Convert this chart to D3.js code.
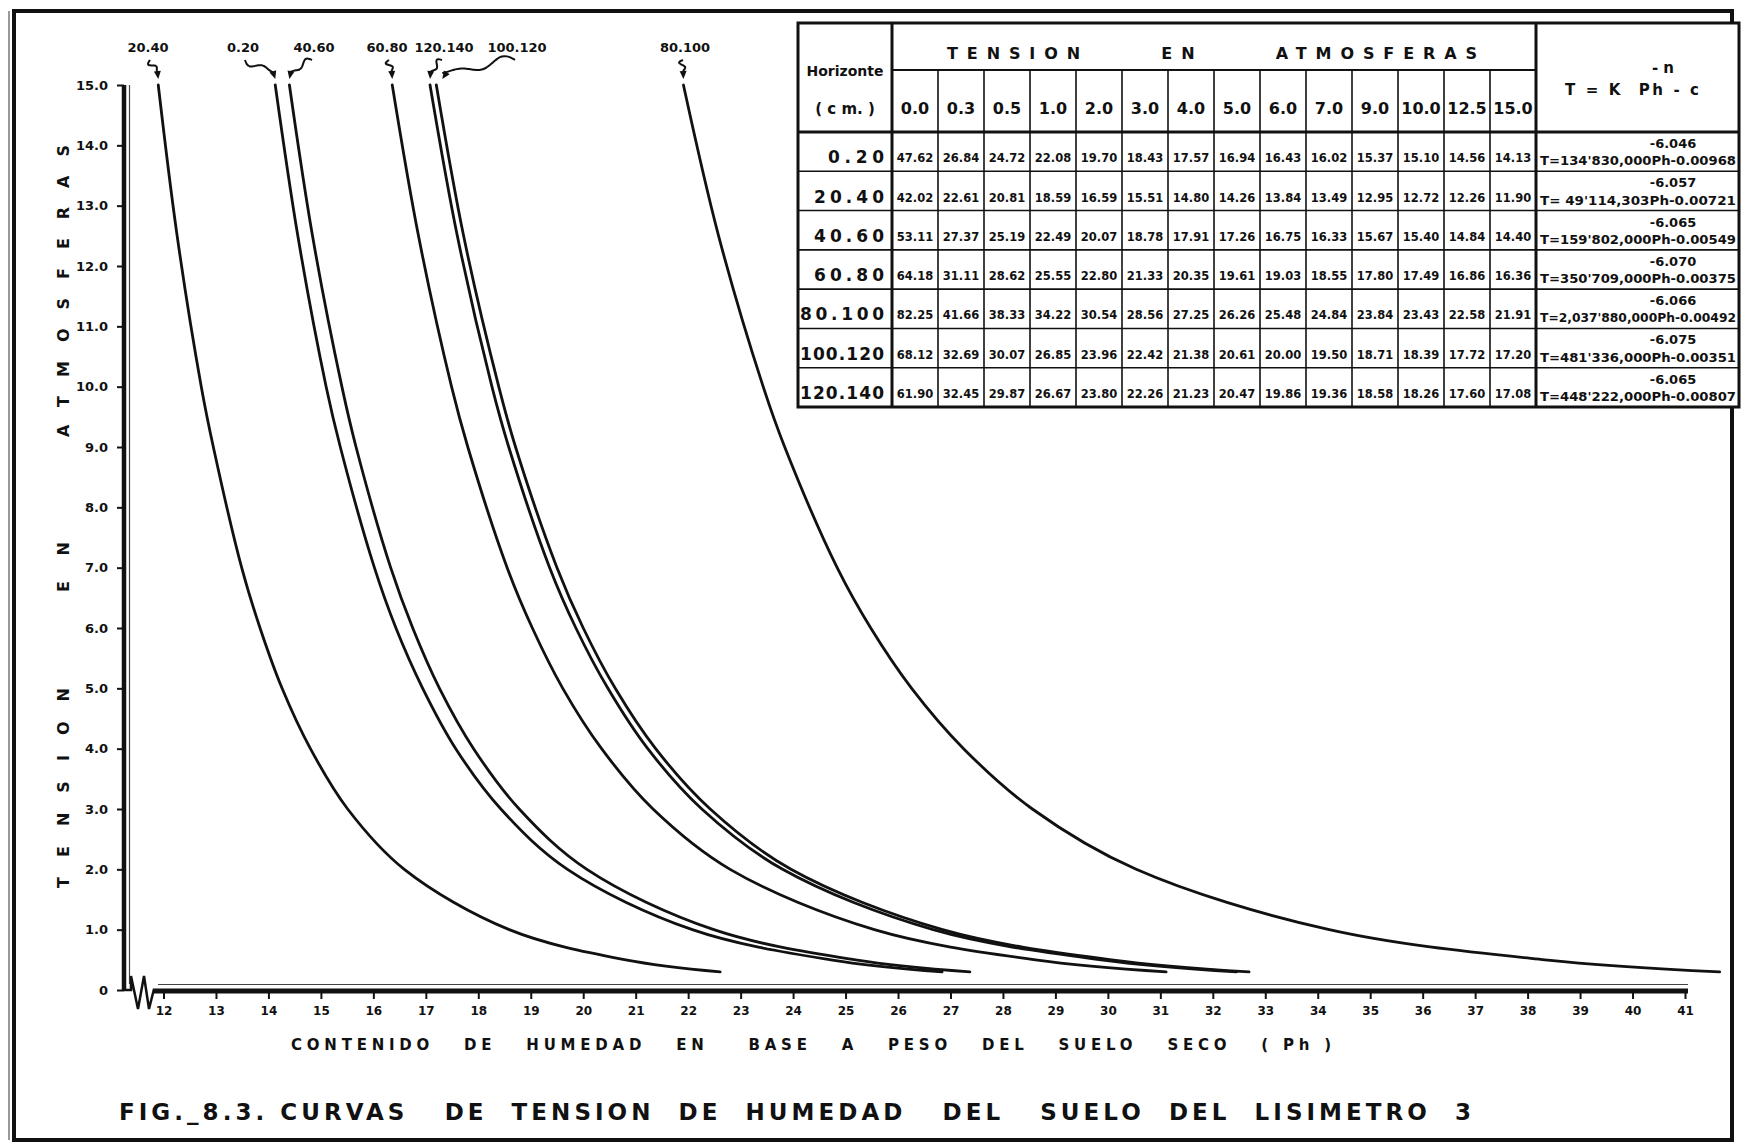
<!DOCTYPE html>
<html>
<head>
<meta charset="utf-8">
<script src="https://cdn.jsdelivr.net/npm/d3@7"></script>
<style>
  body { margin: 0; background: #fff; }
  svg { display: block; font-family: "DejaVu Sans", sans-serif; font-weight: bold; }
</style>
</head>
<body>
<script>
// Tension columns (atm) and soil horizons (cm)
const tensions = [0.0, 0.3, 0.5, 1.0, 2.0, 3.0, 4.0, 5.0, 6.0, 7.0, 9.0, 10.0, 12.5, 15.0];
const horizons = ["0.20", "20.40", "40.60", "60.80", "80.100", "100.120", "120.140"];

// Moisture content Ph for each tension, one array per horizon
const ph_0_20    = [47.62, 26.84, 24.72, 22.08, 19.70, 18.43, 17.57, 16.94, 16.43, 16.02, 15.37, 15.10, 14.56, 14.13];
const ph_20_40   = [42.02, 22.61, 20.81, 18.59, 16.59, 15.51, 14.80, 14.26, 13.84, 13.49, 12.95, 12.72, 12.26, 11.90];
const ph_40_60   = [53.11, 27.37, 25.19, 22.49, 20.07, 18.78, 17.91, 17.26, 16.75, 16.33, 15.67, 15.40, 14.84, 14.40];
const ph_60_80   = [64.18, 31.11, 28.62, 25.55, 22.80, 21.33, 20.35, 19.61, 19.03, 18.55, 17.80, 17.49, 16.86, 16.36];
const ph_80_100  = [82.25, 41.66, 38.33, 34.22, 30.54, 28.56, 27.25, 26.26, 25.48, 24.84, 23.84, 23.43, 22.58, 21.91];
const ph_100_120 = [68.12, 32.69, 30.07, 26.85, 23.96, 22.42, 21.38, 20.61, 20.00, 19.50, 18.71, 18.39, 17.72, 17.20];
const ph_120_140 = [61.90, 32.45, 29.87, 26.67, 23.80, 22.26, 21.23, 20.47, 19.86, 19.36, 18.58, 18.26, 17.60, 17.08];

// Fitted equations T = K Ph^-n - c
const exponents = ["-6.046", "-6.057", "-6.065", "-6.070", "-6.066", "-6.075", "-6.065"];
const formulas = [
  "T=134'830,000Ph-0.00968",
  "T= 49'114,303Ph-0.00721",
  "T=159'802,000Ph-0.00549",
  "T=350'709,000Ph-0.00375",
  "T=2,037'880,000Ph-0.00492",
  "T=481'336,000Ph-0.00351",
  "T=448'222,000Ph-0.00807"
];

// Axis ticks
const yTicks = d3.range(0, 16);
const xTicks = d3.range(12, 42);

const phRows = [ph_0_20, ph_20_40, ph_40_60, ph_60_80, ph_80_100, ph_100_120, ph_120_140];

// Label placement for the curve callouts (pixels, annotation only)
const calloutX = { "0.20": 243, "20.40": 148, "40.60": 314, "60.80": 387, "80.100": 685, "100.120": 517, "120.140": 444 };

const width = 1741, height = 1144;

const svg = d3.select("body").append("svg")
  .attr("width", width)
  .attr("height", height);

svg.append("rect").attr("width", width).attr("height", height).attr("fill", "#fff");

// Frame
svg.append("rect")
  .attr("x", 14).attr("y", 11)
  .attr("width", 1718).attr("height", 1129)
  .attr("fill", "none").attr("stroke", "#111").attr("stroke-width", 4);
svg.append("line").attr("x1", 9).attr("x2", 9).attr("y1", 11).attr("y2", 1140)
  .attr("stroke", "#555").attr("stroke-width", 1.2);

// Scales
const x = d3.scaleLinear().domain([12, 41]).range([163.5, 1685]);
const y = d3.scaleLinear().domain([0, 15]).range([990, 85]);

// Y axis
const yAxis = d3.axisLeft(y)
  .tickValues(yTicks)
  .tickSize(7)
  .tickSizeOuter(0)
  .tickPadding(9)
  .tickFormat(d => d === 0 ? "0" : d.toFixed(1));

const gy = svg.append("g").attr("transform", "translate(124,0)").call(yAxis);
gy.select(".domain").remove();
gy.selectAll(".tick line").attr("stroke", "#111").attr("stroke-width", 2);
gy.selectAll(".tick text")
  .attr("fill", "#111")
  .style("font-family", "'DejaVu Sans', sans-serif")
  .style("font-weight", "bold")
  .style("font-size", "13px");

// X axis
const xAxis = d3.axisBottom(x)
  .tickValues(xTicks)
  .tickSize(8)
  .tickSizeOuter(0)
  .tickPadding(7);

const gx = svg.append("g").attr("transform", "translate(0,991)").call(xAxis);
gx.select(".domain").remove();
gx.selectAll(".tick line").attr("stroke", "#111").attr("stroke-width", 2);
gx.selectAll(".tick text")
  .attr("fill", "#111")
  .style("font-family", "'DejaVu Sans', sans-serif")
  .style("font-weight", "bold")
  .style("font-size", "12px");

// Axis lines with the broken origin
const axisCol = "#111";
svg.append("line").attr("x1", 124).attr("x2", 124).attr("y1", y(15)).attr("y2", 991)
  .attr("stroke", axisCol).attr("stroke-width", 4.5);
svg.append("line").attr("x1", 129.5).attr("x2", 129.5).attr("y1", y(15)).attr("y2", 984)
  .attr("stroke", "#444").attr("stroke-width", 1.2);
svg.append("path")
  .attr("d", "M124,990 H131 V976 L138,1009 L144,976 L149,1009 L154,989")
  .attr("fill", "none").attr("stroke", axisCol).attr("stroke-width", 2.5)
  .attr("stroke-linejoin", "miter");
svg.append("line").attr("x1", 153).attr("x2", x(41) + 3).attr("y1", 991).attr("y2", 991)
  .attr("stroke", axisCol).attr("stroke-width", 5);
svg.append("line").attr("x1", 158).attr("x2", x(41) + 3).attr("y1", 984.5).attr("y2", 984.5)
  .attr("stroke", "#444").attr("stroke-width", 1.2);

// Axis titles
const yTitle = [
  { txt: "TENSION", start: 888, len: 200 },
  { txt: "EN", start: 592, len: 50 },
  { txt: "ATMOSFERAS", start: 437, len: 292 }
];
yTitle.forEach(t => {
  svg.append("text")
    .attr("transform", "translate(69," + t.start + ") rotate(-90)")
    .attr("textLength", t.len)
    .attr("lengthAdjust", "spacing")
    .style("font-size", "16px")
    .attr("fill", "#111")
    .text(t.txt);
});

svg.append("text")
  .attr("x", 291).attr("y", 1050)
  .attr("textLength", 1040)
  .attr("lengthAdjust", "spacing")
  .style("white-space", "pre")
  .style("font-size", "15px")
  .attr("fill", "#111")
  .text("CONTENIDO   DE   HUMEDAD   EN    BASE   A   PESO   DEL   SUELO   SECO   ( Ph )");

svg.append("text")
  .attr("x", 119).attr("y", 1120)
  .attr("textLength", 1352)
  .attr("lengthAdjust", "spacing")
  .style("white-space", "pre")
  .style("font-size", "23px")
  .attr("fill", "#111")
  .text("FIG._8.3. CURVAS   DE  TENSION  DE  HUMEDAD   DEL   SUELO  DEL  LISIMETRO  3");

// Curves (drawn from T = 0.3 up to 15.0)
const line = d3.line()
  .x(d => x(d.ph))
  .y(d => y(d.t))
  .curve(d3.curveCatmullRom.alpha(0.5));

const series = horizons.map((h, i) => ({
  h: h,
  pts: tensions.map((t, j) => ({ t: t, ph: phRows[i][j] }))
    .filter(d => d.t > 0)
    .sort((a, b) => b.t - a.t)
}));

svg.append("g").selectAll("path")
  .data(series)
  .enter().append("path")
  .attr("d", d => line(d.pts))
  .attr("fill", "none")
  .attr("stroke", "#111")
  .attr("stroke-width", 2.8)
  .attr("stroke-linecap", "round");

// Curve callouts: label + wavy arrow to the top of each curve
function squiggle(x0, y0, x1, y1, waves, amp) {
  const pts = [];
  const dx = x1 - x0, dy = y1 - y0;
  const len = Math.hypot(dx, dy);
  const nx = -dy / len, ny = dx / len;
  const n = 30;
  for (let i = 0; i <= n; i++) {
    const t = i / n;
    const off = amp * Math.sin(t * waves * 2 * Math.PI) * (1 - t);
    pts.push([x0 + dx * t + nx * off, y0 + dy * t + ny * off]);
  }
  return pts;
}

const callouts = svg.append("g");
series.forEach((s, i) => {
  const lx = calloutX[s.h];
  const tipX = x(phRows[i][13]) + (s.h === "100.120" ? 6 : 0);
  const tipY = y(15) - 6;
  callouts.append("text")
    .attr("x", lx).attr("y", 52)
    .attr("text-anchor", "middle")
    .style("font-size", "13px")
    .attr("fill", "#111")
    .text(s.h);
  const waves = s.h === "100.120" ? 1.5 : 1.2;
  const amp = s.h === "100.120" ? 7 : 5;
  const pts = squiggle(lx + (tipX > lx ? 2 : -2), 60, tipX, tipY - 6, waves, amp);
  callouts.append("path")
    .attr("d", d3.line().curve(d3.curveBasis)(pts))
    .attr("fill", "none").attr("stroke", "#111").attr("stroke-width", 2);
  const b = pts[pts.length - 3];
  const ang = Math.atan2(tipY - b[1], tipX - b[0]);
  const hx = tipX, hy = tipY;
  const bx = hx - 8 * Math.cos(ang), by = hy - 8 * Math.sin(ang);
  callouts.append("path")
    .attr("d", "M" + hx + "," + hy +
      "L" + (bx + 3.5 * Math.sin(ang)) + "," + (by - 3.5 * Math.cos(ang)) +
      "L" + (bx - 3.5 * Math.sin(ang)) + "," + (by + 3.5 * Math.cos(ang)) + "Z")
    .attr("fill", "#111");
});

// Data table
const tab = svg.append("g");
const tX0 = 798, tX1 = 892, tX2 = 1536, tX3 = 1739;
const tY0 = 23, tY1 = 70, tY2 = 132, tY3 = 407;
const colBand = d3.scaleBand().domain(tensions).range([tX1, tX2]);
const rowBand = d3.scaleBand().domain(horizons).range([tY2, tY3]);

tab.append("rect")
  .attr("x", tX0).attr("y", tY0)
  .attr("width", tX3 - tX0).attr("height", tY3 - tY0)
  .attr("fill", "#fff").attr("stroke", "#111").attr("stroke-width", 3);

function hl(x1, x2, yy, w) {
  tab.append("line").attr("x1", x1).attr("x2", x2).attr("y1", yy).attr("y2", yy)
    .attr("stroke", "#111").attr("stroke-width", w);
}
function vl(xx, y1, y2, w) {
  tab.append("line").attr("x1", xx).attr("x2", xx).attr("y1", y1).attr("y2", y2)
    .attr("stroke", "#111").attr("stroke-width", w);
}

hl(tX1, tX2, tY1, 2);
hl(tX0, tX3, tY2, 3.2);
horizons.slice(1).forEach(h => hl(tX0, tX3, rowBand(h), 1.6));
vl(tX1, tY0, tY3, 3);
vl(tX2, tY0, tY3, 3);
tensions.slice(1).forEach(t => vl(colBand(t), tY1, tY3, 1.6));

// Header texts
tab.append("text").attr("x", (tX0 + tX1) / 2).attr("y", 76)
  .attr("text-anchor", "middle").style("font-size", "14px").attr("fill", "#111")
  .text("Horizonte");
tab.append("text").attr("x", (tX0 + tX1) / 2).attr("y", 114)
  .attr("text-anchor", "middle").style("font-size", "15px").attr("fill", "#111")
  .style("white-space", "pre")
  .text("( c m. )");

tab.append("text").attr("x", 947).attr("y", 59)
  .attr("textLength", 530).attr("lengthAdjust", "spacing")
  .style("white-space", "pre")
  .style("font-size", "16px").attr("fill", "#111")
  .text("TENSION     EN     ATMOSFERAS");

tab.selectAll(".colhead")
  .data(tensions)
  .enter().append("text")
  .attr("x", d => colBand(d) + colBand.bandwidth() / 2)
  .attr("y", 114)
  .attr("text-anchor", "middle")
  .style("font-size", "16px")
  .attr("fill", "#111")
  .text(d => d.toFixed(1));

tab.append("text").attr("x", 1663).attr("y", 73)
  .attr("text-anchor", "middle").style("font-size", "15px").attr("fill", "#111")
  .style("white-space", "pre")
  .text("- n");
tab.append("text").attr("x", 1565).attr("y", 95)
  .attr("textLength", 134).attr("lengthAdjust", "spacing")
  .style("white-space", "pre")
  .style("font-size", "15px").attr("fill", "#111")
  .text("T = K  Ph - c");

// Table body
horizons.forEach((h, i) => {
  const top = rowBand(h), bot = top + rowBand.bandwidth();
  const lw = Math.min(84, 14 * h.length);
  tab.append("text")
    .attr("x", 884 - lw).attr("y", bot - 8)
    .attr("textLength", lw)
    .attr("lengthAdjust", "spacing")
    .style("font-size", "17px")
    .attr("fill", "#111")
    .text(h);
  tensions.forEach((t, j) => {
    tab.append("text")
      .attr("x", colBand(t) + colBand.bandwidth() / 2)
      .attr("y", bot - 9)
      .attr("text-anchor", "middle")
      .style("font-size", "11.5px")
      .attr("fill", "#111")
      .text(phRows[i][j].toFixed(2));
  });
  tab.append("text")
    .attr("x", 1673).attr("y", top + 16)
    .attr("text-anchor", "middle")
    .style("font-size", "13px")
    .attr("fill", "#111")
    .text(exponents[i]);
  tab.append("text")
    .attr("x", 1540).attr("y", bot - 6)
    .attr("textLength", 196).attr("lengthAdjust", "spacingAndGlyphs")
    .style("font-size", "12px")
    .attr("fill", "#111")
    .text(formulas[i]);
});
</script>
</body>
</html>
